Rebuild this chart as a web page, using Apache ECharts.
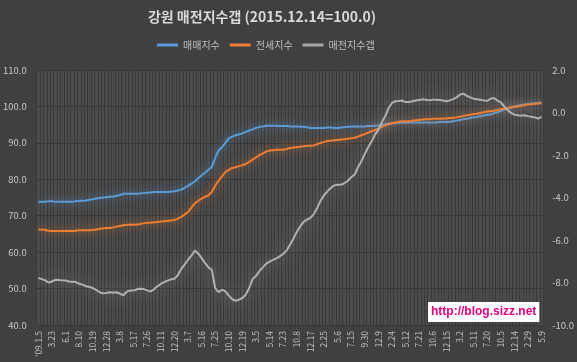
<!DOCTYPE html>
<html>
<head>
<meta charset="utf-8">
<script src="https://cdn.jsdelivr.net/npm/echarts@6/dist/echarts.min.js"></script>
<style>
html,body{margin:0;padding:0;background:#404040;}
#c{width:577px;height:362px;}
</style>
</head>
<body>
<div id="c"></div>
<script>
var tickLabels = ["'09.1.5","3.23","6.1","8.10","10.19","12.28","3.8","5.17","7.26","10.11","12.20","3.7","5.16","7.25","10.10","12.19","3.5","5.14","7.23","10.8","12.17","2.25","5.6","7.15","9.30","12.9","2.24","5.12","7.21","10.6","12.15","3.2","5.11","7.20","10.5","12.14","2.29","5.9"];

var saleIndex = [
73.8,73.8,73.8,74.0,74.0,73.8,73.8,73.8,73.8,73.8,73.8,
74.0,74.1,74.1,74.2,74.4,74.5,74.7,74.9,75.0,75.1,
75.2,75.3,75.5,75.7,76.0,76.0,76.0,76.0,76.0,76.1,
76.2,76.3,76.4,76.5,76.5,76.5,
76.5,76.5,76.6,76.7,76.9,77.2,77.6,78.2,78.8,79.4,80.3,81.1,
81.8,82.6,83.4,85.9,87.9,88.8,90.0,91.2,91.7,92.1,92.3,92.6,
93.0,93.4,93.7,94.1,94.4,94.5,94.7,94.7,94.7,94.7,94.6,94.6,
94.7,94.5,94.5,94.5,94.4,94.4,94.3,94.1,94.1,94.1,94.1,94.1,
94.2,94.2,94.1,94.1,94.2,94.3,94.4,94.4,94.5,94.5,94.5,94.5,
94.6,94.6,94.7,94.8,95.0,95.1,95.3,95.4,95.4,95.5,95.5,95.5,95.6,
95.6,95.6,95.6,95.6,95.6,95.6,95.6,95.6,95.7,95.7,95.7,95.8,95.9,
96.1,96.3,96.5,96.6,96.8,97.0,97.1,97.3,97.5,97.7,97.8,98.1,98.4,
98.7,99.1,99.5,99.7,99.9,100.2,100.4,100.5,100.7,100.8,100.9,101.0,101.1
];

var jeonseIndex = [
66.2,66.2,66.1,65.9,65.8,65.8,65.8,65.8,65.8,65.8,65.8,
65.9,66.0,66.0,66.0,66.0,66.1,66.2,66.4,66.5,66.6,
66.6,66.8,67.0,67.2,67.4,67.5,67.5,67.5,67.6,67.7,
67.9,68.1,68.1,68.2,68.3,68.4,
68.5,68.6,68.7,68.8,69.2,69.7,70.3,71.0,72.2,73.4,74.1,74.7,
75.2,75.6,76.5,78.3,79.6,80.8,82.0,82.6,83.1,83.3,83.6,83.9,
84.2,84.8,85.4,86.0,86.6,87.1,87.6,87.9,88.0,88.1,88.1,88.1,
88.3,88.6,88.7,88.8,88.9,89.1,89.2,89.2,89.3,89.6,90.0,90.2,
90.5,90.6,90.7,90.8,90.9,91.0,91.1,91.3,91.4,91.7,92.1,92.4,
92.8,93.2,93.5,93.9,94.4,94.8,95.1,95.4,95.6,95.8,95.9,95.9,95.9,
96.1,96.2,96.3,96.4,96.5,96.5,96.6,96.6,96.6,96.7,96.7,96.8,96.8,
97.0,97.2,97.4,97.6,97.7,97.9,98.0,98.2,98.4,98.6,98.7,98.8,99.0,
99.2,99.4,99.6,99.8,99.9,100.0,100.2,100.3,100.5,100.6,100.7,100.8,100.9
];

var gapIndex = [
-7.79,-7.84,-7.90,-8.00,-7.95,-7.87,-7.88,-7.90,-7.91,-7.95,-7.96,-7.98,-8.06,
-8.10,-8.18,-8.21,-8.26,-8.35,-8.46,-8.51,-8.49,-8.46,-8.48,-8.46,-8.53,
-8.60,-8.43,-8.38,-8.38,-8.32,-8.29,-8.31,-8.37,-8.42,-8.32,-8.18,-8.07,
-7.98,-7.91,-7.85,-7.82,-7.66,-7.37,-7.16,-6.93,-6.74,-6.50,-6.63,-6.85,
-7.08,-7.29,-7.40,-8.26,-8.45,-8.34,-8.42,-8.62,-8.79,-8.86,-8.81,-8.73,
-8.57,-8.26,-7.83,-7.69,-7.47,-7.29,-7.11,-7.02,-6.94,-6.86,-6.77,-6.65,
-6.50,-6.22,-5.94,-5.62,-5.36,-5.15,-5.04,-4.96,-4.78,-4.49,-4.15,-3.90,
-3.71,-3.55,-3.43,-3.40,-3.40,-3.33,-3.21,-3.05,-2.93,-2.58,-2.30,-1.95,
-1.64,-1.36,-1.04,-0.82,-0.46,-0.18,0.21,0.45,0.53,0.54,0.56,0.49,0.49,
0.53,0.56,0.59,0.62,0.60,0.57,0.60,0.60,0.59,0.56,0.53,0.57,0.63,
0.71,0.84,0.89,0.78,0.71,0.65,0.62,0.60,0.57,0.54,0.65,0.68,0.56,
0.48,0.29,0.13,-0.02,-0.10,-0.13,-0.15,-0.13,-0.17,-0.20,-0.23,-0.29,-0.20
];

var seriesNames = ['매매지수','전세지수','매전지수갭'];

// categories: each tick label followed by 3 unlabeled slots
var categories = [];
for (var j = 0; j < tickLabels.length; j++) {
  categories.push(tickLabels[j]);
  if (j < tickLabels.length - 1) { categories.push(''); categories.push(''); categories.push(''); }
}

var FONT = "'Noto Sans CJK KR', 'Noto Sans', sans-serif";
var chart = echarts.init(document.getElementById('c'), null, {renderer: 'canvas'});
chart.setOption({
  backgroundColor: '#404040',
  animation: false,
  title: {
    text: '강원 매전지수갭 (2015.12.14=100.0)',
    left: 262, top: 10, textAlign: 'center', padding: 0,
    textStyle: {color: '#d9d9d9', fontSize: 14, fontWeight: 'bold', fontFamily: FONT}
  },
  legend: {
    data: seriesNames,
    left: 157, top: 40, padding: 0,
    itemWidth: 21, itemHeight: 3, itemGap: 10, icon: 'rect',
    textStyle: {color: '#bfbfbf', fontSize: 10, fontFamily: FONT}
  },
  grid: {
    left: 34, right: 33, top: 70, bottom: 37,
    show: true, backgroundColor: '#4b4b4b', borderWidth: 0
  },
  xAxis: {
    type: 'category', data: categories, boundaryGap: true,
    axisLine: {show: false}, axisTick: {show: false},
    axisLabel: {interval: 3, rotate: 90, color: '#c0c0c0', fontSize: 8.5, margin: 6, fontFamily: FONT},
    splitLine: {show: true, interval: 0, lineStyle: {color: '#383838', width: 1}}
  },
  yAxis: [{
    type: 'value', min: 40, max: 110, interval: 10,
    axisLine: {show: false}, axisTick: {show: false},
    axisLabel: {color: '#c8c8c8', fontSize: 9.5, margin: 10, fontFamily: FONT,
      formatter: function (v) { return v.toFixed(1); }},
    splitLine: {show: true, lineStyle: {color: '#363636', width: 1}}
  }, {
    type: 'value', min: -10, max: 2, interval: 2,
    axisLine: {show: false}, axisTick: {show: false},
    axisLabel: {color: '#c8c8c8', fontSize: 9.5, margin: 9, fontFamily: FONT,
      formatter: function (v) { return v.toFixed(1); }},
    splitLine: {show: false}
  }],
  series: [{
    name: seriesNames[0], type: 'line', data: saleIndex, yAxisIndex: 0,
    symbol: 'none', color: '#5b9bd5',
    lineStyle: {width: 2, color: '#5b9bd5', shadowBlur: 10, shadowColor: 'rgba(91,155,213,0.75)'}
  }, {
    name: seriesNames[1], type: 'line', data: jeonseIndex, yAxisIndex: 0,
    symbol: 'none', color: '#ed7d31',
    lineStyle: {width: 2, color: '#ed7d31', shadowBlur: 10, shadowColor: 'rgba(237,125,49,0.75)'}
  }, {
    name: seriesNames[2], type: 'line', data: gapIndex, yAxisIndex: 1,
    symbol: 'none', color: '#a5a5a5',
    lineStyle: {width: 2, color: '#b0b0b0', shadowBlur: 16, shadowColor: 'rgba(210,210,210,0.5)'}
  }],
  graphic: [{
    type: 'text', left: 428, top: 302, z: 100,
    style: {
      text: 'http://blog.sizz.net', fill: '#e4007f',
      font: "bold 12px 'Liberation Sans', Arial, sans-serif",
      backgroundColor: '#ffffff', padding: [4, 3, 4, 3]
    }
  }]
});
</script>
</body>
</html>
